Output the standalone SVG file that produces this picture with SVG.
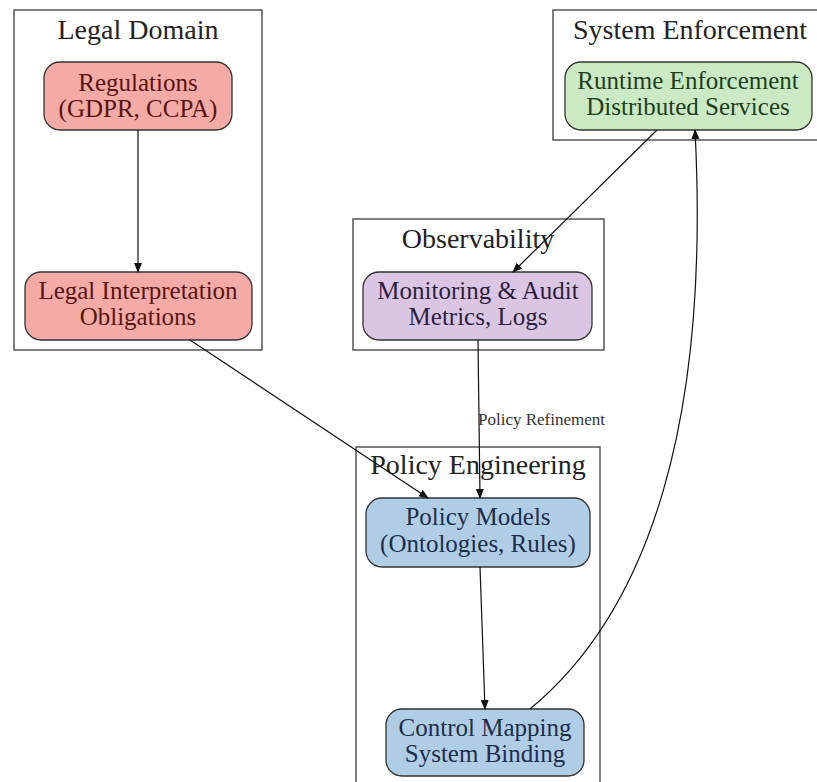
<svg xmlns="http://www.w3.org/2000/svg" width="817" height="782" viewBox="0 0 817 782">
<style>
.cl{fill:#ffffff;stroke:#555;stroke-width:1.5}
.ct{font-family:"Liberation Serif",serif;font-size:28px;fill:#222;text-anchor:middle}
.nt{font-family:"Liberation Serif",serif;font-size:25px;text-anchor:middle}
.nd{stroke:#333;stroke-width:1.3}
.e{fill:none;stroke:#111;stroke-width:1.2;marker-end:url(#ah)}
.lb{font-family:"Liberation Serif",serif;font-size:17px;fill:#333;text-anchor:start}
</style>
<defs>
<marker id="ah" markerWidth="10" markerHeight="10" refX="9" refY="5" orient="auto" markerUnits="userSpaceOnUse">
<path d="M0,1 L10,5 L0,9 Z" fill="#111"/>
</marker>
</defs>
<rect width="817" height="782" fill="#fff"/>
<g id="cluster_legal"><rect class="cl" x="14" y="10" width="248" height="340"/><text class="ct" x="138" y="39">Legal Domain</text></g>
<g id="cluster_system"><rect class="cl" x="553" y="10" width="270" height="130"/><text class="ct" x="690" y="39">System Enforcement</text></g>
<g id="cluster_obs"><rect class="cl" x="353" y="219" width="251" height="131"/><text class="ct" x="478" y="248">Observability</text></g>
<g id="cluster_policy"><rect class="cl" x="356" y="447" width="244" height="345"/><text class="ct" x="478" y="474">Policy Engineering</text></g>

<g id="regulations"><rect class="nd" x="44" y="62" width="188" height="68" rx="16" fill="#f4aaa5"/><text class="nt" x="138" y="91" fill="#5a1414">Regulations</text><text class="nt" x="138" y="117" fill="#5a1414">(GDPR, CCPA)</text></g>
<g id="legal_interp"><rect class="nd" x="25" y="272" width="227" height="68" rx="16" fill="#f4aaa5"/><text class="nt" x="138" y="299" fill="#5a1414">Legal Interpretation</text><text class="nt" x="138" y="325" fill="#5a1414">Obligations</text></g>
<g id="runtime"><rect class="nd" x="565" y="62" width="247" height="68" rx="16" fill="#cbeac3"/><text class="nt" x="688" y="89" fill="#1e3e1e">Runtime Enforcement</text><text class="nt" x="688" y="115" fill="#1e3e1e">Distributed Services</text></g>
<g id="monitoring"><rect class="nd" x="363" y="272" width="229" height="68" rx="16" fill="#dac6e2"/><text class="nt" x="478" y="299" fill="#2e1e3e">Monitoring &amp; Audit</text><text class="nt" x="478" y="325" fill="#2e1e3e">Metrics, Logs</text></g>
<g id="policy_models"><rect class="nd" x="366" y="498" width="224" height="69" rx="16" fill="#b0cde6"/><text class="nt" x="478" y="525" fill="#1e2e4a">Policy Models</text><text class="nt" x="478" y="552" fill="#1e2e4a">(Ontologies, Rules)</text></g>
<g id="control_mapping"><rect class="nd" x="386" y="709" width="198" height="67" rx="16" fill="#b0cde6"/><text class="nt" x="485" y="736" fill="#1e2e4a">Control Mapping</text><text class="nt" x="485" y="762" fill="#1e2e4a">System Binding</text></g>

<g id="edges">
<path class="e" d="M138,130 L138,272"/>
<path class="e" d="M190,340 L428,498"/>
<path class="e" d="M657,130 L513,272"/>
<path class="e" d="M478,340 L480,498"/>
<text class="lb" x="478" y="425">Policy Refinement</text>
<path class="e" d="M480,567 L485,709"/>
<path class="e" d="M530,709 C650,610 710,420 695,130"/>
</g>
</svg>
